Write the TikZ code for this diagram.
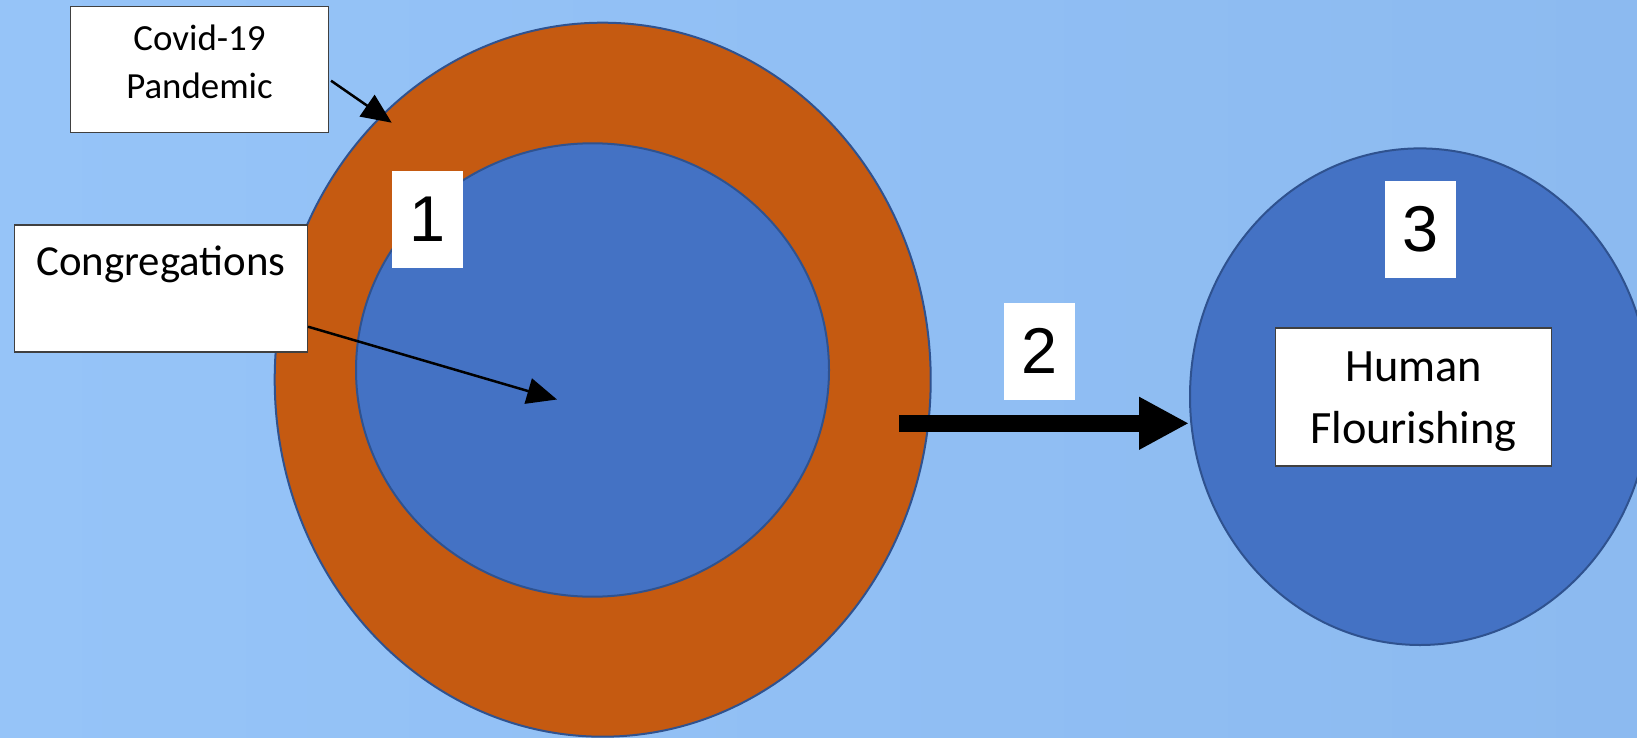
\documentclass[tikz,border=0pt]{standalone}
\usepackage{fontspec}
\setmainfont{Carlito}
\newfontfamily\numfont{Liberation Sans}
\usetikzlibrary{arrows.meta,shapes.geometric}
\definecolor{bgL}{RGB}{150,196,248}
\definecolor{bgM}{RGB}{160,202,250}
\definecolor{bgR}{RGB}{140,186,240}
\definecolor{ringcol}{RGB}{197,90,17}
\definecolor{corecol}{RGB}{68,114,196}
\definecolor{edgecol}{RGB}{47,82,143}
\definecolor{boxedge}{RGB}{64,64,64}
\begin{document}
\begin{tikzpicture}[x=1bp,y=-1bp,
  blob/.style={ellipse, draw=edgecol, line width=2bp, inner sep=0pt},
  labelbox/.style={draw=boxedge, line width=1.5bp, fill=white, inner sep=0pt},
  labeltext/.style={align=center, inner sep=0pt},
  numbox/.style={fill=white, inner sep=0pt, minimum width=71bp, minimum height=97bp,
    font=\numfont\fontsize{65}{65}\selectfont},
  thinarrow/.style={line width=2.5bp, -{Triangle[length=30bp,width=26bp]}},
  bigarrow/.style={line width=16.7bp, -{Triangle[length=50bp,width=49.3bp]}}
]
\path[use as bounding box] (0,0) rectangle (1637,738);
\clip (0,0) rectangle (1637,738);
\shade[left color=bgL, middle color=bgM, right color=bgR] (0,0) rectangle (1637,738);

% circles
\node[blob, fill=ringcol, minimum width=656bp, minimum height=714bp] (outer) at (602.7,379.7) {};
\node[blob, fill=corecol, minimum width=473bp, minimum height=453.4bp] (inner) at (592.5,370) {};
\node[blob, fill=corecol, minimum width=460bp, minimum height=496.6bp] (goal) at (1420,396.7) {};

% label boxes
\node[labelbox, minimum width=257.6bp, minimum height=126bp] (covid) at (199.5,69.7) {};
\node[labeltext, font=\fontsize{37}{47.6}\selectfont] (covidtxt) at (199.5,62) {Covid-19\\Pandemic};

\node[labelbox, minimum width=292.8bp, minimum height=126.7bp] (cong) at (160.9,288.4) {};
\node[labeltext, anchor=base, font=\fontsize{43}{52}\selectfont] (congtxt) at (160.9,275) {Congregations};

\node[labelbox, minimum width=276.4bp, minimum height=138.3bp] (human) at (1413.5,396.9) {};
\node[labeltext, font=\fontsize{46.5}{62.3}\selectfont] (humantxt) at (1413.5,401.5) {Human\\Flourishing};

% number boxes
\node[numbox] (n1) at (427.5,219.5) {1};
\node[numbox] (n2) at (1039.5,351) {2};
\node[numbox] (n3) at (1420.5,229.4) {3};

% arrows
\coordinate (covtip) at (391.7,122.7);
\coordinate (congtip) at (557,399.5);
\coordinate (bigstart) at (899.3,423.3);
\draw[thinarrow] ([xshift=2bp,yshift=-11bp]covid.east) -- (covtip);
\draw[thinarrow] ([yshift=-38.3bp]cong.east) -- (congtip);
\draw[bigarrow] (bigstart) -- (goal.west |- bigstart);
\end{tikzpicture}
\end{document}
